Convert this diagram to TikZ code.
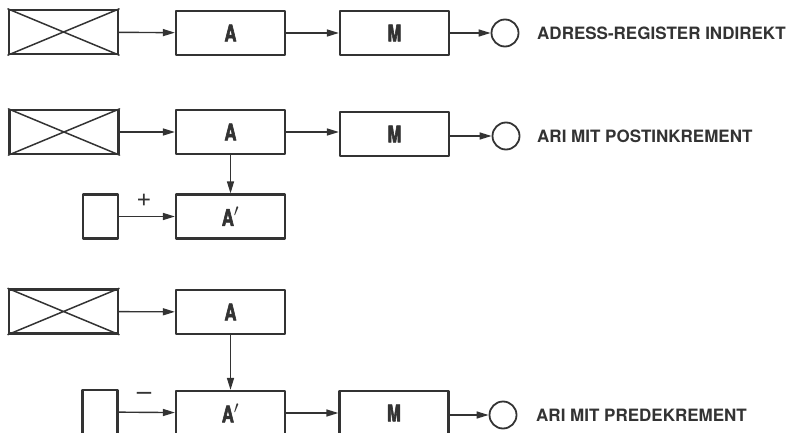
\documentclass[tikz,border=0pt]{standalone}
\usepackage{fontspec}
\newfontfamily\condfont[FakeStretch=0.72,FakeBold=2.5]{TeX Gyre Heros}
\newfontfamily\labelfont{TeX Gyre Heros}
\usetikzlibrary{arrows.meta}
\definecolor{ink}{HTML}{333333}
\tikzset{
  reg/.style={draw=ink, line width=2.2pt, minimum width=109pt, minimum height=44pt,
    inner sep=0pt, text=ink, font=\condfont\bfseries\fontsize{23}{23}\selectfont},
  klein/.style={draw=ink, line width=2.2pt, minimum width=35pt, minimum height=44pt, inner sep=0pt},
  ende/.style={draw=ink, line width=1.8pt, circle, minimum size=27pt, inner sep=0pt},
  pfeil/.style={draw=ink, line width=1.4pt, -{Triangle[length=12pt,width=7pt]}},
  kreuz/.style={draw=ink, line width=1.5pt},
  titel/.style={anchor=west, inner sep=0pt, text=ink, font=\labelfont\bfseries\fontsize{17}{17}\selectfont},
  zeichen/.style={inner sep=0pt, text=ink, font=\labelfont\fontsize{26}{26}\selectfont},
}
\begin{document}
\begin{tikzpicture}[x=1pt,y=-1pt,line cap=round,line join=round]
  \useasboundingbox (0,0) rectangle (792,433);
  % adress-register indirekt
  \node[reg] (x1) at (63.5,32) {};
  \draw[kreuz] (x1.north west) -- (x1.south east) (x1.south west) -- (x1.north east);
  \node[reg] (a1) at (230.5,33) {A};
  \node[reg] (m1) at (394.5,33) {M};
  \node[ende] (e1) at (505,33) {};
  \node[titel] (t1) at (537,33) {ADRESS-REGISTER INDIREKT};
  \draw[pfeil] (x1) -- (a1);
  \draw[pfeil] (a1) -- (m1);
  \draw[pfeil] (m1) -- (e1);
  % postinkrement
  \node[reg] (x2) at (64,132) {};
  \draw[kreuz] (x2.north west) -- (x2.south east) (x2.south west) -- (x2.north east);
  \node[reg] (a2) at (230.5,132) {A};
  \node[reg] (m2) at (394.5,134) {M};
  \node[ende] (e2) at (506,136) {};
  \node[titel] (t2) at (537,136) {ARI MIT POSTINKREMENT};
  \node[reg] (a2p) at (230.5,216.5) {A$'$};
  \node[klein] (k2) at (100.5,216.5) {};
  \node[zeichen] (p2) at (144,200) {+};
  \draw[pfeil] (x2) -- (a2);
  \draw[pfeil] (a2.east) -- (m2.west |- a2.east);
  \draw[pfeil] (m2.east |- e2) -- (e2);
  \draw[pfeil] (a2) -- (a2p);
  \draw[pfeil] (k2) -- (a2p);
  % predekrement
  \node[reg] (x3) at (63.5,311.5) {};
  \draw[kreuz] (x3.north west) -- (x3.south east) (x3.south west) -- (x3.north east);
  \node[reg] (a3) at (230.5,312) {A};
  \node[reg] (a3p) at (230.5,413) {A$'$};
  \node[klein] (k3) at (100,412) {};
  \node[zeichen] (n3) at (144,396) {\textendash};
  \node[reg] (m3) at (394,413) {M};
  \node[ende] (e3) at (503,415) {};
  \node[titel] (t3) at (536,415) {ARI MIT PREDEKREMENT};
  \draw[pfeil] (x3) -- (a3);
  \draw[pfeil] (a3) -- (a3p);
  \draw[pfeil] (k3) -- (a3p);
  \draw[pfeil] (a3p) -- (m3);
  \draw[pfeil] (m3.east |- e3) -- (e3);
\end{tikzpicture}
\end{document}
